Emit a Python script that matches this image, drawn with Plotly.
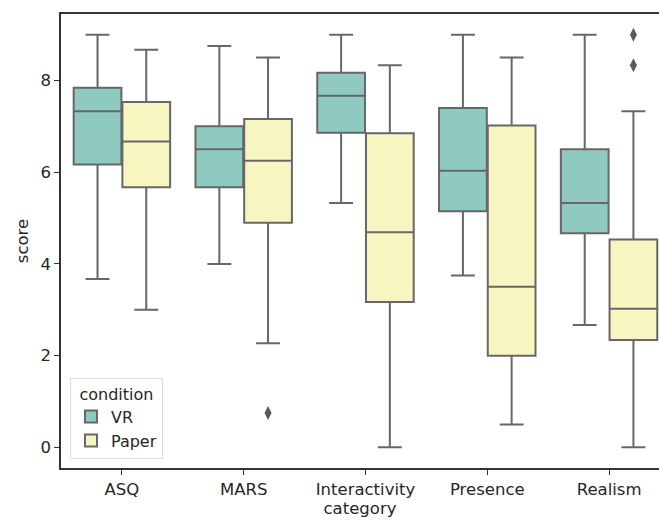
import plotly.graph_objects as go

categories = ["ASQ", "MARS", "Interactivity", "Presence", "Realism"]

vr_lower = [3.67, 4.0, 5.33, 3.75, 2.67]
vr_q1 = [6.17, 5.67, 6.86, 5.15, 4.67]
vr_median = [7.33, 6.5, 7.67, 6.03, 5.33]
vr_q3 = [7.84, 7.0, 8.17, 7.4, 6.5]
vr_upper = [9.0, 8.75, 9.0, 9.0, 9.0]
vr_outlier_cat = ["ASQ"]
vr_outlier_val = [None]

paper_lower = [3.0, 2.27, 0.0, 0.5, 0.0]
paper_q1 = [5.67, 4.9, 3.17, 2.0, 2.34]
paper_median = [6.67, 6.25, 4.69, 3.5, 3.02]
paper_q3 = [7.53, 7.16, 6.85, 7.02, 4.53]
paper_upper = [8.67, 8.5, 8.33, 8.5, 7.33]
paper_outlier_cat = ["MARS", "Realism", "Realism"]
paper_outlier_val = [0.75, 8.33, 9.0]

line_col = "#676767"
font = "DejaVu Sans"

fig = go.Figure()
series = [
    ("VR", vr_lower, vr_q1, vr_median, vr_q3, vr_upper, vr_outlier_cat, vr_outlier_val, "#8fcac1"),
    ("Paper", paper_lower, paper_q1, paper_median, paper_q3, paper_upper, paper_outlier_cat, paper_outlier_val, "#f7f6c0"),
]
for name, lo, q1, med, q3, up, ocat, oval, fill in series:
    fig.add_trace(go.Box(
        name=name,
        x=categories,
        q1=q1, median=med, q3=q3,
        lowerfence=lo, upperfence=up,
        boxpoints=False,
        fillcolor=fill,
        line=dict(color=line_col, width=2),
        whiskerwidth=0.5,
        hoverinfo="skip",
        offsetgroup=name,
    ))
for name, lo, q1, med, q3, up, ocat, oval, fill in series:
    fig.add_trace(go.Scatter(
        name=name + " outliers",
        x=ocat, y=oval,
        mode="markers",
        marker=dict(symbol="diamond-tall", color="#5a5a5a", size=10, line=dict(width=0)),
        showlegend=False,
        hoverinfo="skip",
        offsetgroup=name,
    ))

fig.update_layout(
    width=659, height=520,
    margin=dict(l=61, r=0, t=14, b=52),
    paper_bgcolor="white", plot_bgcolor="white",
    boxmode="group", boxgap=0.2, boxgroupgap=0.02,
    scattermode="group", scattergap=0.2,
    font=dict(family=font, size=16.5, color="#262626"),
    showlegend=True,
    legend=dict(
        title=dict(text="condition", font=dict(size=16), side="top center"),
        x=0.015, y=0.02, xanchor="left", yanchor="bottom",
        bgcolor="white", bordercolor="#dddddd", borderwidth=1,
        font=dict(size=16), itemsizing="constant",
        tracegroupgap=2,
    ),
    xaxis=dict(
        type="category", categoryarray=categories, categoryorder="array",
        range=[-0.5, 4.41],
        showline=True, linecolor="#333333", linewidth=1.5, mirror=True,
        ticks="outside", ticklen=5, tickcolor="#333333",
        showgrid=False, zeroline=False,
        title=dict(text="category", standoff=5, font=dict(size=16.5)),
    ),
    yaxis=dict(
        range=[-0.45, 9.45],
        tickvals=[0, 2, 4, 6, 8],
        showline=True, linecolor="#333333", linewidth=1.5,
        ticks="outside", ticklen=5, tickcolor="#333333",
        showgrid=False, zeroline=False,
        title=dict(text="score", standoff=8, font=dict(size=16.5)),
    ),
)

fig.write_html("out.html", post_script="document.body.style.margin='0';",
               config={"displayModeBar": False})
